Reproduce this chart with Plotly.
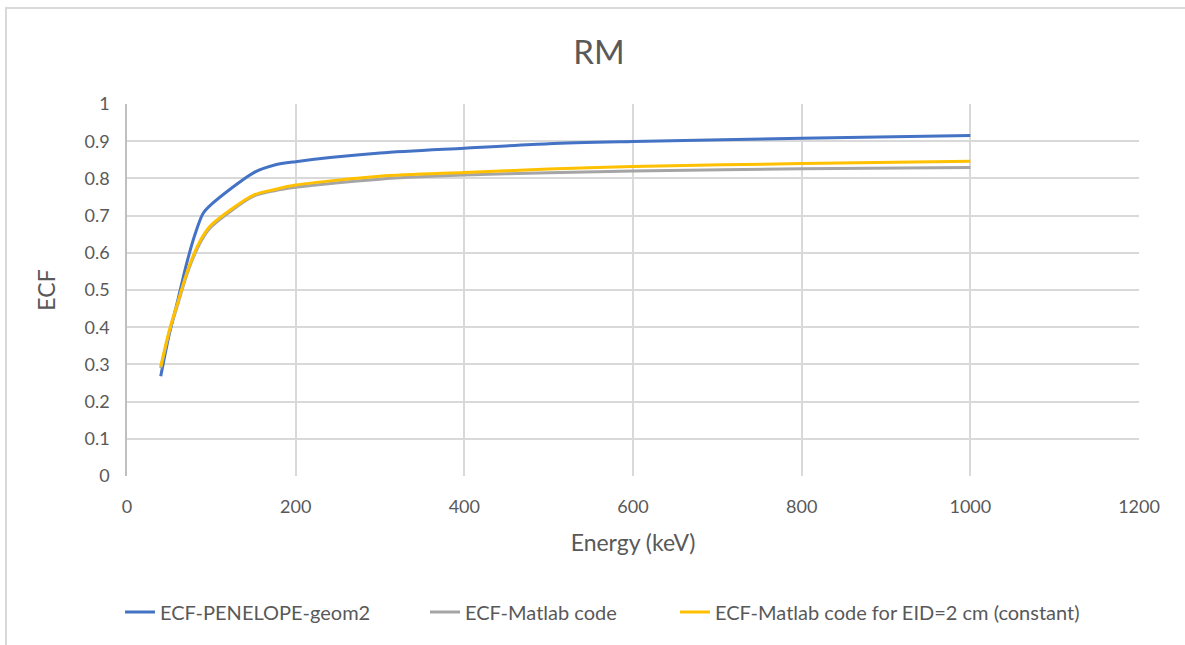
import plotly.graph_objects as go

# Photon energy (keV)
energy_kev = [40, 50, 60, 70, 80, 90, 100, 150, 175, 200, 300, 400, 500, 600, 800, 1000]

# Energy correction factor for each model
ecf_penelope_geom2 = [0.268, 0.38, 0.47, 0.565, 0.645, 0.705, 0.73, 0.815, 0.836, 0.845,
                      0.868, 0.881, 0.893, 0.899, 0.908, 0.915]
ecf_matlab = [0.29, 0.385, 0.46, 0.535, 0.595, 0.64, 0.67, 0.752, 0.767, 0.776,
              0.798, 0.809, 0.815, 0.82, 0.826, 0.829]
ecf_matlab_eid2 = [0.294, 0.39, 0.465, 0.54, 0.60, 0.645, 0.675, 0.755, 0.77, 0.782,
                   0.806, 0.816, 0.825, 0.832, 0.84, 0.846]

series_names = [
    "ECF-PENELOPE-geom2",
    "ECF-Matlab code",
    "ECF-Matlab code for EID=2 cm (constant)",
]
series_colors = ["#4472C4", "#A5A5A5", "#FFC000"]

x_ticks = [0, 200, 400, 600, 800, 1000, 1200]
y_ticks = [0, 0.1, 0.2, 0.3, 0.4, 0.5, 0.6, 0.7, 0.8, 0.9, 1]

FONT = "Lato, 'Open Sans', sans-serif"
TEXT = "#595959"
GRID = "#D9D9D9"

# plot area in pixels (used to place legends and the outer frame)
PL, PR, PT, PB = 127, 1139, 104, 476
PW, PH = PR - PL, PB - PT


def px_x(px):
    return (px - PL) / PW


def px_y(py):
    return (PB - py) / PH


legend_ids = ["legend", "legend2", "legend3"]
legend_left_px = [120, 425, 675]

fig = go.Figure()
for name, values, color, lid in zip(series_names,
                                    [ecf_penelope_geom2, ecf_matlab, ecf_matlab_eid2],
                                    series_colors, legend_ids):
    fig.add_trace(go.Scatter(
        x=energy_kev, y=values, name=name, mode="lines", legend=lid,
        line=dict(color=color, width=3, shape="spline", smoothing=0.8),
    ))

legend_style = dict(orientation="h", xanchor="left", y=px_y(612), yanchor="middle",
                    font=dict(family=FONT, size=20, color=TEXT),
                    bgcolor="rgba(0,0,0,0)", borderwidth=0)

fig.update_layout(
    width=1185, height=645,
    margin=dict(l=PL, r=1185 - PR, t=PT, b=645 - PB),
    paper_bgcolor="white", plot_bgcolor="white",
    font=dict(family=FONT, color=TEXT, size=18),
    title=dict(text="RM", x=599 / 1185, xanchor="center", y=1 - 52 / 645, yanchor="middle",
               font=dict(family=FONT, size=33, color=TEXT)),
    showlegend=True,
    legend=dict(x=px_x(legend_left_px[0]), **legend_style),
    legend2=dict(x=px_x(legend_left_px[1]), **legend_style),
    legend3=dict(x=px_x(legend_left_px[2]), **legend_style),
    xaxis=dict(
        range=[0, 1200], tickvals=x_ticks, ticktext=[str(v) for v in x_ticks],
        showgrid=True, gridcolor=GRID, gridwidth=1.5,
        zeroline=False, showline=False, ticks="", ticklabelstandoff=18,
        title=dict(text="Energy (keV)", standoff=18, font=dict(size=23, color=TEXT)),
    ),
    yaxis=dict(
        range=[0, 1], tickvals=y_ticks, ticktext=[f"{v:g}" for v in y_ticks],
        showgrid=True, gridcolor=GRID, gridwidth=1.5,
        zeroline=False, showline=True, linecolor="#BFBFBF", linewidth=1.5,
        ticks="", ticklabelstandoff=12,
        title=dict(text="ECF", standoff=22, font=dict(size=23, color=TEXT)),
    ),
    shapes=[dict(type="rect", xref="paper", yref="paper",
                 x0=px_x(6), x1=px_x(1192), y0=px_y(652), y1=px_y(8),
                 line=dict(color=GRID, width=2), layer="below")],
)

fig.write_html("out.html")
